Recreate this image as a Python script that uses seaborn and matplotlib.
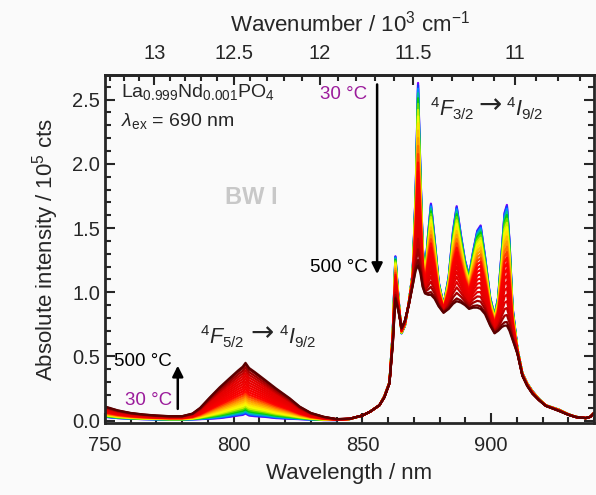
import numpy as np
import pandas as pd
import matplotlib
matplotlib.use('Agg')
import matplotlib.pyplot as plt
import seaborn as sns
from matplotlib.colors import LinearSegmentedColormap
from matplotlib.ticker import MultipleLocator

wavelength = [750, 755, 760, 765, 770, 775, 780, 784, 787, 790.7, 794.6, 798.4,
              801.7, 803.5, 804.6, 806, 808.1, 812, 816.5, 821.7, 825.6, 830,
              835, 840, 845, 850, 853, 856.6, 858.5, 860.5, 861.8, 862.8, 864,
              865.2, 866.5, 868, 869.5, 870.7, 871.6, 872.5, 873.4, 874.3, 875.5,
              876.6, 878, 879.6, 881.5, 883.5, 885.2, 886.6, 888.2, 889.8, 891.4,
              893, 894.6, 895.9, 897.6, 899.6, 901.3, 902.7, 904.2, 905.2, 906.1,
              907.1, 908.3, 910.2, 912.1, 914, 916, 918.5, 921.2, 926.4, 930,
              932.8, 936.7, 938.5, 940]
intensity_30C = [0.03, 0.02, 0.015, 0.012, 0.01, 0.008, 0.008, 0.01, 0.012, 0.015,
                 0.02, 0.03, 0.04, 0.045, 0.055, 0.04, 0.035, 0.03, 0.02, 0.015,
                 0.012, 0.008, 0.005, 0.005, 0.012, 0.04, 0.07, 0.12, 0.19, 0.30,
                 0.70, 1.28, 0.95, 0.68, 0.74, 0.92, 1.15, 1.80, 2.63, 1.95, 1.35,
                 1.15, 1.45, 1.69, 1.42, 1.08, 0.90, 1.12, 1.48, 1.67, 1.45, 1.25,
                 1.13, 1.32, 1.48, 1.52, 1.28, 0.96, 0.82, 0.96, 1.35, 1.62, 1.68,
                 1.40, 0.88, 0.56, 0.37, 0.29, 0.23, 0.17, 0.12, 0.085, 0.05, 0.03,
                 0.02, 0.03, 0.06]
intensity_500C = [0.11, 0.08, 0.06, 0.048, 0.04, 0.035, 0.035, 0.055, 0.10, 0.18,
                  0.26, 0.33, 0.39, 0.42, 0.45, 0.41, 0.38, 0.32, 0.25, 0.175,
                  0.11, 0.06, 0.03, 0.012, 0.015, 0.04, 0.07, 0.12, 0.18, 0.29,
                  0.60, 0.95, 0.85, 0.72, 0.78, 0.90, 1.05, 1.17, 1.21, 1.15, 1.04,
                  0.99, 0.98, 0.98, 0.95, 0.89, 0.84, 0.87, 0.91, 0.93, 0.92, 0.90,
                  0.87, 0.88, 0.88, 0.87, 0.83, 0.74, 0.68, 0.70, 0.73, 0.74, 0.74,
                  0.70, 0.63, 0.52, 0.35, 0.27, 0.21, 0.16, 0.115, 0.075, 0.045,
                  0.028, 0.02, 0.03, 0.06]
temperatures = list(range(30, 500, 20)) + [500]

sns.set_style('ticks')
plt.rcParams['font.family'] = ['Liberation Sans', 'DejaVu Sans']
plt.rcParams['mathtext.fontset'] = 'custom'
plt.rcParams['mathtext.rm'] = 'Liberation Sans'
plt.rcParams['mathtext.it'] = 'Liberation Sans:italic'
plt.rcParams['mathtext.bf'] = 'Liberation Sans:bold'

# Tabla larga: un espectro por temperatura entre los dos extremos leidos
filas = []
for T in temperatures:
    f = ((T - 30) / 470) ** 1.4
    for wl, c, h in zip(wavelength, intensity_30C, intensity_500C):
        filas.append({'wl': wl, 'I': c + (h - c) * f, 'T': T})
df = pd.DataFrame(filas)

cmap = LinearSegmentedColormap.from_list('temp', [
    (0.0, '#7a00ff'), (0.05, '#0040ff'), (0.1, '#00b0ff'), (0.17, '#00d000'),
    (0.25, '#c8f000'), (0.3, '#ffff00'), (0.4, '#ffb000'), (0.48, '#ff6000'),
    (0.55, '#ff0000'), (0.85, '#e00000'), (1.0, '#5a0000')])
paleta = {T: cmap(i / (len(temperatures) - 1)) for i, T in enumerate(temperatures)}

fondo = '#fafafa'
morado = '#9b1b9b'
fig = plt.figure(figsize=(5.96, 4.95), dpi=100, facecolor=fondo)
ax = fig.add_axes([0.176, 0.145, 0.821, 0.703])
ax.set_facecolor(fondo)

sns.lineplot(data=df, x='wl', y='I', hue='T', palette=paleta, legend=False,
             linewidth=1.6, estimator=None, ax=ax)

ax.set_xlim(750, 940)
ax.set_ylim(-0.02, 2.69)
ax.xaxis.set_major_locator(MultipleLocator(50))
ax.xaxis.set_minor_locator(MultipleLocator(10))
ax.yaxis.set_major_locator(MultipleLocator(0.5))
ax.yaxis.set_minor_locator(MultipleLocator(0.1))
ax.yaxis.set_major_formatter(matplotlib.ticker.FormatStrFormatter('%.1f'))
ax.tick_params(which='both', direction='in', right=True, top=False,
               width=1.5, labelsize=14.5)
ax.tick_params(which='major', length=7)
ax.tick_params(which='minor', length=4)
ax.tick_params(axis='x', pad=9)
for s in ax.spines.values():
    s.set_linewidth(2)
ax.set_xlabel('Wavelength / nm', fontsize=16, labelpad=6)
ax.set_ylabel(r'Absolute intensity / 10$^5$ cts', fontsize=16, labelpad=8)


def nm_a_kcm(x):
    x = np.asarray(x, dtype=float)
    with np.errstate(divide='ignore'):
        return 1e4 / x


arriba = ax.secondary_xaxis('top', functions=(nm_a_kcm, nm_a_kcm))
arriba.set_xticks([13, 12.5, 12, 11.5, 11])
arriba.set_xticklabels(['13', '12.5', '12', '11.5', '11'])
arriba.xaxis.set_minor_locator(MultipleLocator(0.1))
arriba.tick_params(which='both', direction='in', width=1.5, labelsize=14.5, pad=9)
arriba.tick_params(which='major', length=7)
arriba.tick_params(which='minor', length=4)
arriba.spines['top'].set_linewidth(2)
arriba.set_xlabel(r'Wavenumber / 10$^3$ cm$^{-1}$', fontsize=16, labelpad=9)

# Anotaciones
ax.text(756.4, 2.56, r'La$_{0.999}$Nd$_{0.001}$PO$_4$', fontsize=14, va='center')
ax.text(756.4, 2.33, r'$\lambda_{\mathrm{ex}}$ = 690 nm', fontsize=14, va='center')
ax.text(807, 1.74, 'BW I', fontsize=17, fontweight='bold', color='#c8c8c8',
        ha='center', va='center')

# transiciones: termino, flecha larga, termino
ax.text(876.2, 2.43, r'$^4F_{3/2}$', fontsize=15.5, va='center')
ax.text(899.4, 2.46, '→', family='DejaVu Sans', fontsize=20, ha='center', va='center')
ax.text(905.8, 2.43, r'$^4I_{9/2}$', fontsize=15.5, va='center')
ax.text(787.1, 0.65, r'$^4F_{5/2}$', fontsize=15.5, va='center')
ax.text(811.2, 0.68, '→', family='DejaVu Sans', fontsize=20, ha='center', va='center')
ax.text(817.6, 0.65, r'$^4I_{9/2}$', fontsize=15.5, va='center')

flecha = dict(arrowstyle='-|>', color='black', lw=1.8, mutation_scale=16)
ax.annotate('', xy=(855.7, 1.12), xytext=(855.7, 2.64), arrowprops=flecha)
ax.text(852, 2.54, '30 °C', color=morado, fontsize=13.5, ha='right', va='center')
ax.text(852, 1.19, '500 °C', color='black', fontsize=13.5, ha='right', va='center')
ax.annotate('', xy=(778.3, 0.45), xytext=(778.3, 0.07), arrowprops=flecha)
ax.text(776, 0.46, '500 °C', color='black', fontsize=13.5, ha='right', va='center')
ax.text(776, 0.16, '30 °C', color=morado, fontsize=13.5, ha='right', va='center')

fig.savefig('out.png', dpi=100, facecolor=fondo)
